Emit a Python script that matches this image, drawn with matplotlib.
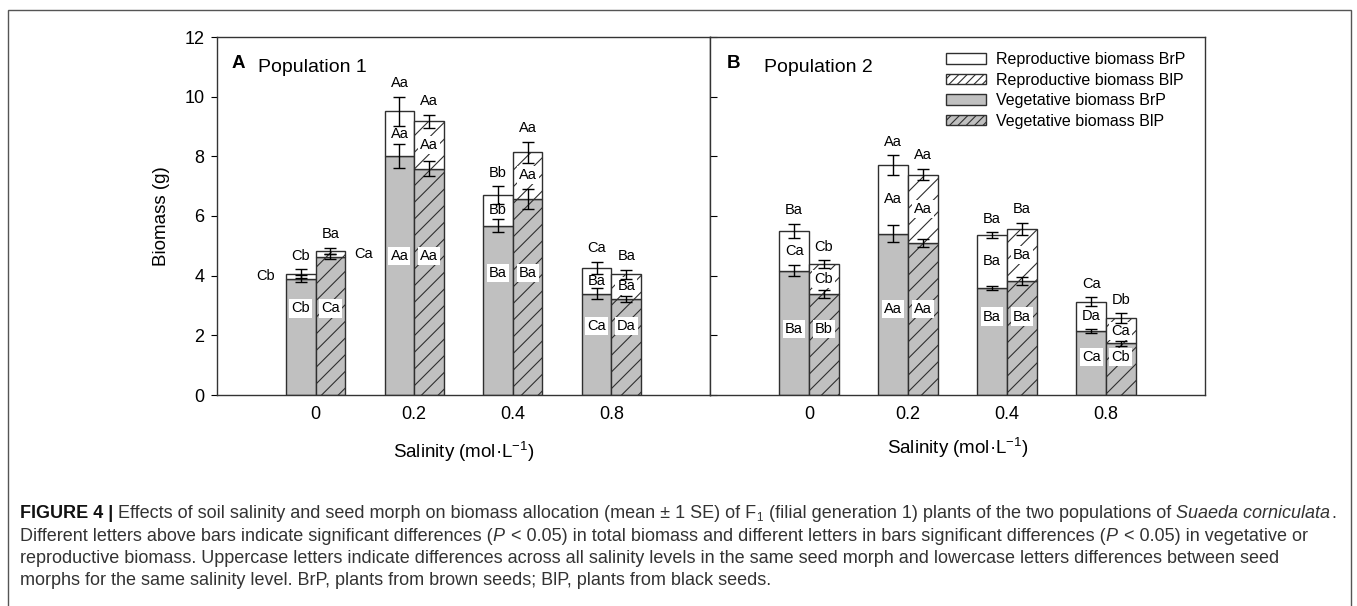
import matplotlib
matplotlib.use('Agg')
import matplotlib.pyplot as plt
from matplotlib.patches import Patch, Rectangle
import numpy as np

plt.rcParams['font.family'] = ['Liberation Sans', 'DejaVu Sans']
plt.rcParams['mathtext.fontset'] = 'custom'
plt.rcParams['mathtext.rm'] = 'Liberation Sans'
plt.rcParams['mathtext.it'] = 'Liberation Sans:italic'
plt.rcParams['hatch.linewidth'] = 0.8
plt.rcParams['hatch.color'] = '#2b2b2b'

# salinity levels (mol/L)
salinity = ['0', '0.2', '0.4', '0.8']

# population 1: vegetative and total biomass (g), BrP / BlP
p1_veg_brp = [3.90, 8.00, 5.68, 3.39]
p1_veg_blp = [4.64, 7.58, 6.58, 3.23]
p1_tot_brp = [4.06, 9.51, 6.69, 4.27]
p1_tot_blp = [4.84, 9.17, 8.14, 4.05]
p1_veg_brp_se = [0.12, 0.40, 0.23, 0.18]
p1_veg_blp_se = [0.08, 0.25, 0.34, 0.10]
p1_tot_brp_se = [0.15, 0.49, 0.30, 0.20]
p1_tot_blp_se = [0.10, 0.23, 0.35, 0.15]

# population 2
p2_veg_brp = [4.17, 5.41, 3.60, 2.15]
p2_veg_blp = [3.39, 5.09, 3.83, 1.73]
p2_tot_brp = [5.50, 7.71, 5.36, 3.13]
p2_tot_blp = [4.38, 7.39, 5.56, 2.57]
p2_veg_brp_se = [0.18, 0.28, 0.07, 0.07]
p2_veg_blp_se = [0.13, 0.14, 0.14, 0.09]
p2_tot_brp_se = [0.24, 0.32, 0.10, 0.15]
p2_tot_blp_se = [0.13, 0.20, 0.21, 0.17]

# significance letters
p1_top_brp = ['Cb', 'Aa', 'Bb', 'Ca']
p1_top_blp = ['Ba', 'Aa', 'Aa', 'Ba']
p1_rep_brp = ['Cb', 'Aa', 'Bb', 'Ba']
p1_rep_blp = ['Ca', 'Aa', 'Aa', 'Ba']
p1_veg_lab_brp = ['Cb', 'Aa', 'Ba', 'Ca']
p1_veg_lab_blp = ['Ca', 'Aa', 'Ba', 'Da']

p2_top_brp = ['Ba', 'Aa', 'Ba', 'Ca']
p2_top_blp = ['Cb', 'Aa', 'Ba', 'Db']
p2_rep_brp = ['Ca', 'Aa', 'Ba', 'Da']
p2_rep_blp = ['Cb', 'Aa', 'Ba', 'Ca']
p2_veg_lab_brp = ['Ba', 'Aa', 'Ba', 'Ca']
p2_veg_lab_blp = ['Bb', 'Aa', 'Ba', 'Cb']

# layout of the in-bar vegetative letters (height in g) and
# whether the reproductive letter sits beside the bar (segment too thin)
p1_veg_lab_y = [2.9, 4.65, 4.1, 2.3]
p2_veg_lab_y = [2.2, 2.88, 2.63, 1.26]
p1_rep_out = [True, False, False, False]
p2_rep_out = [False, False, False, False]

GRAY = '#c0c0c0'
EDGE = '#2f2f2f'
W, H = 1357, 606
LAB = 10.5

fig = plt.figure(figsize=(W / 100, H / 100), dpi=100)
ax1 = fig.add_axes([217 / W, 1 - 395 / H, 493 / W, 358 / H])
ax2 = fig.add_axes([710 / W, 1 - 395 / H, 495 / W, 358 / H])


def draw_panel(ax, veg, tot, veg_se, tot_se, top_lab, rep_lab, veg_lab, veg_lab_y, rep_out):
	x = np.arange(len(salinity))
	offs = [-0.15, 0.15]
	hatches = [None, '//']
	for k in range(2):
		v = np.array(veg[k])
		t = np.array(tot[k])
		ax.bar(x + offs[k], v, 0.3, color=GRAY, edgecolor=EDGE, hatch=hatches[k], lw=1, zorder=2)
		ax.bar(x + offs[k], t - v, 0.3, bottom=v, color='white', edgecolor=EDGE, hatch=hatches[k], lw=1, zorder=2)
		ax.errorbar(x + offs[k], v, yerr=veg_se[k], fmt='none', ecolor='black', capsize=4.5, elinewidth=1, capthick=1, zorder=5)
		ax.errorbar(x + offs[k], t, yerr=tot_se[k], fmt='none', ecolor='black', capsize=4.5, elinewidth=1, capthick=1, zorder=5)
		for i in range(len(x)):
			xc = x[i] + offs[k]
			ax.text(xc, t[i] + tot_se[k][i] + 0.45, top_lab[k][i], ha='center', va='center', fontsize=LAB, zorder=6)
			box = dict(facecolor='white', edgecolor='none', pad=1.5)
			if rep_out[i]:
				# letter placed next to the bar
				ax.text(xc + (-0.36 if k == 0 else 0.34), (v[i] + t[i]) / 2, rep_lab[k][i],
						ha='center', va='center', fontsize=LAB, zorder=6)
			else:
				ax.text(xc, (v[i] + t[i]) / 2, rep_lab[k][i], ha='center', va='center',
						fontsize=LAB, bbox=box, zorder=4)
			ax.text(xc, veg_lab_y[i], veg_lab[k][i], ha='center', va='center', fontsize=LAB, bbox=box, zorder=4)
	ax.set_xlim(-1, 4)
	ax.set_ylim(0, 12)
	ax.set_xticks(x)
	ax.set_xticklabels(salinity, fontsize=13)
	ax.set_yticks(np.arange(0, 13, 2))
	ax.tick_params(axis='x', length=0, pad=8)
	for s in ax.spines.values():
		s.set_color('#333333')
		s.set_linewidth(1)


draw_panel(ax1, (p1_veg_brp, p1_veg_blp), (p1_tot_brp, p1_tot_blp),
		   (p1_veg_brp_se, p1_veg_blp_se), (p1_tot_brp_se, p1_tot_blp_se),
		   (p1_top_brp, p1_top_blp), (p1_rep_brp, p1_rep_blp), (p1_veg_lab_brp, p1_veg_lab_blp),
		   p1_veg_lab_y, p1_rep_out)
draw_panel(ax2, (p2_veg_brp, p2_veg_blp), (p2_tot_brp, p2_tot_blp),
		   (p2_veg_brp_se, p2_veg_blp_se), (p2_tot_brp_se, p2_tot_blp_se),
		   (p2_top_brp, p2_top_blp), (p2_rep_brp, p2_rep_blp), (p2_veg_lab_brp, p2_veg_lab_blp),
		   p2_veg_lab_y, p2_rep_out)

ax1.tick_params(axis='y', direction='out', length=4, pad=5, labelsize=13)
ax2.tick_params(axis='y', direction='in', length=5, labelleft=False)

ax1.set_ylabel('Biomass (g)', fontsize=13.5)
ax1.yaxis.set_label_coords((162 - 217) / 493, 0.5)
ax1.yaxis.label.set_va('center')
ax1.set_xlabel('Salinity (mol·L$^{-1}$)', fontsize=13.5)
ax1.xaxis.set_label_coords(0.5, (395 - 452) / 358)
ax1.xaxis.label.set_va('center')
ax2.set_xlabel('Salinity (mol·L$^{-1}$)', fontsize=13.5)
ax2.xaxis.set_label_coords(0.5, (395 - 448) / 358)
ax2.xaxis.label.set_va('center')

ax1.text((232 - 217) / 493, (395 - 63) / 358, 'A', transform=ax1.transAxes,
		 fontsize=13.5, fontweight='bold', va='center', ha='left')
ax1.text((258 - 217) / 493, (395 - 68) / 358, 'Population 1', transform=ax1.transAxes,
		 fontsize=14, va='center', ha='left')
ax2.text((727 - 710) / 495, (395 - 63) / 358, 'B', transform=ax2.transAxes,
		 fontsize=13.5, fontweight='bold', va='center', ha='left')
ax2.text((764 - 710) / 495, (395 - 68) / 358, 'Population 2', transform=ax2.transAxes,
		 fontsize=14, va='center', ha='left')

handles = [Patch(facecolor='white', edgecolor=EDGE, lw=1),
		   Patch(facecolor='white', edgecolor=EDGE, hatch='////', lw=1),
		   Patch(facecolor=GRAY, edgecolor=EDGE, lw=1),
		   Patch(facecolor=GRAY, edgecolor=EDGE, hatch='////', lw=1)]
labels = ['Reproductive biomass BrP', 'Reproductive biomass BlP',
		  'Vegetative biomass BrP', 'Vegetative biomass BlP']
ax2.legend(handles, labels, loc='upper left', bbox_to_anchor=((946 - 710) / 495, (395 - 52) / 358),
		   frameon=False, fontsize=11.5, borderpad=0, borderaxespad=0, handlelength=2.5,
		   handleheight=0.65, handletextpad=0.6, labelspacing=0.35)

# outer frame of the figure panel
fig.patches.append(Rectangle((8 / W, -0.05), (1351 - 8) / W, 1 - 10 / H + 0.05,
							 transform=fig.transFigure, fill=False, lw=1, ec='#555555'))

# caption, drawn run by run so bold / italic pieces line up
renderer = fig.canvas.get_renderer()
CAP = 12.95
styles = {
	'b': dict(fontsize=CAP, fontweight='bold', color='#111111'),
	'n': dict(fontsize=CAP, color='#333333'),
	'i': dict(fontsize=CAP, style='italic', color='#333333'),
	's': dict(fontsize=CAP * 0.65, color='#333333'),
}


def caption_line(ybase, runs):
	x = 20
	for s, st in runs:
		if s == ' ':
			x += CAP * 100 / 72 * 0.278
			continue
		dy = 3 if st == 's' else 0
		t = fig.text(x / W, 1 - (ybase + dy) / H, s, ha='left', va='baseline', **styles[st])
		x = t.get_window_extent(renderer).x1 + (1 if st in ('i', 's') else 0)


caption_line(518, [('FIGURE 4 |', 'b'), (' ', 'n'),
				   ('Effects of soil salinity and seed morph on biomass allocation (mean ± 1 SE) of F', 'n'),
				   ('1', 's'), (' ', 'n'),
				   ('(filial generation 1) plants of the two populations of', 'n'), (' ', 'n'),
				   ('Suaeda corniculata', 'i'), ('.', 'n')])
caption_line(541, [('Different letters above bars indicate significant differences (', 'n'), ('P', 'i'), (' ', 'n'),
				   ('< 0.05) in total biomass and different letters in bars significant differences (', 'n'),
				   ('P', 'i'), (' ', 'n'), ('< 0.05) in vegetative or', 'n')])
caption_line(563, [('reproductive biomass. Uppercase letters indicate differences across all salinity levels in the '
					'same seed morph and lowercase letters differences between seed', 'n')])
caption_line(585, [('morphs for the same salinity level. BrP, plants from brown seeds; BlP, plants from black seeds.', 'n')])

fig.savefig('out.png', dpi=100)
